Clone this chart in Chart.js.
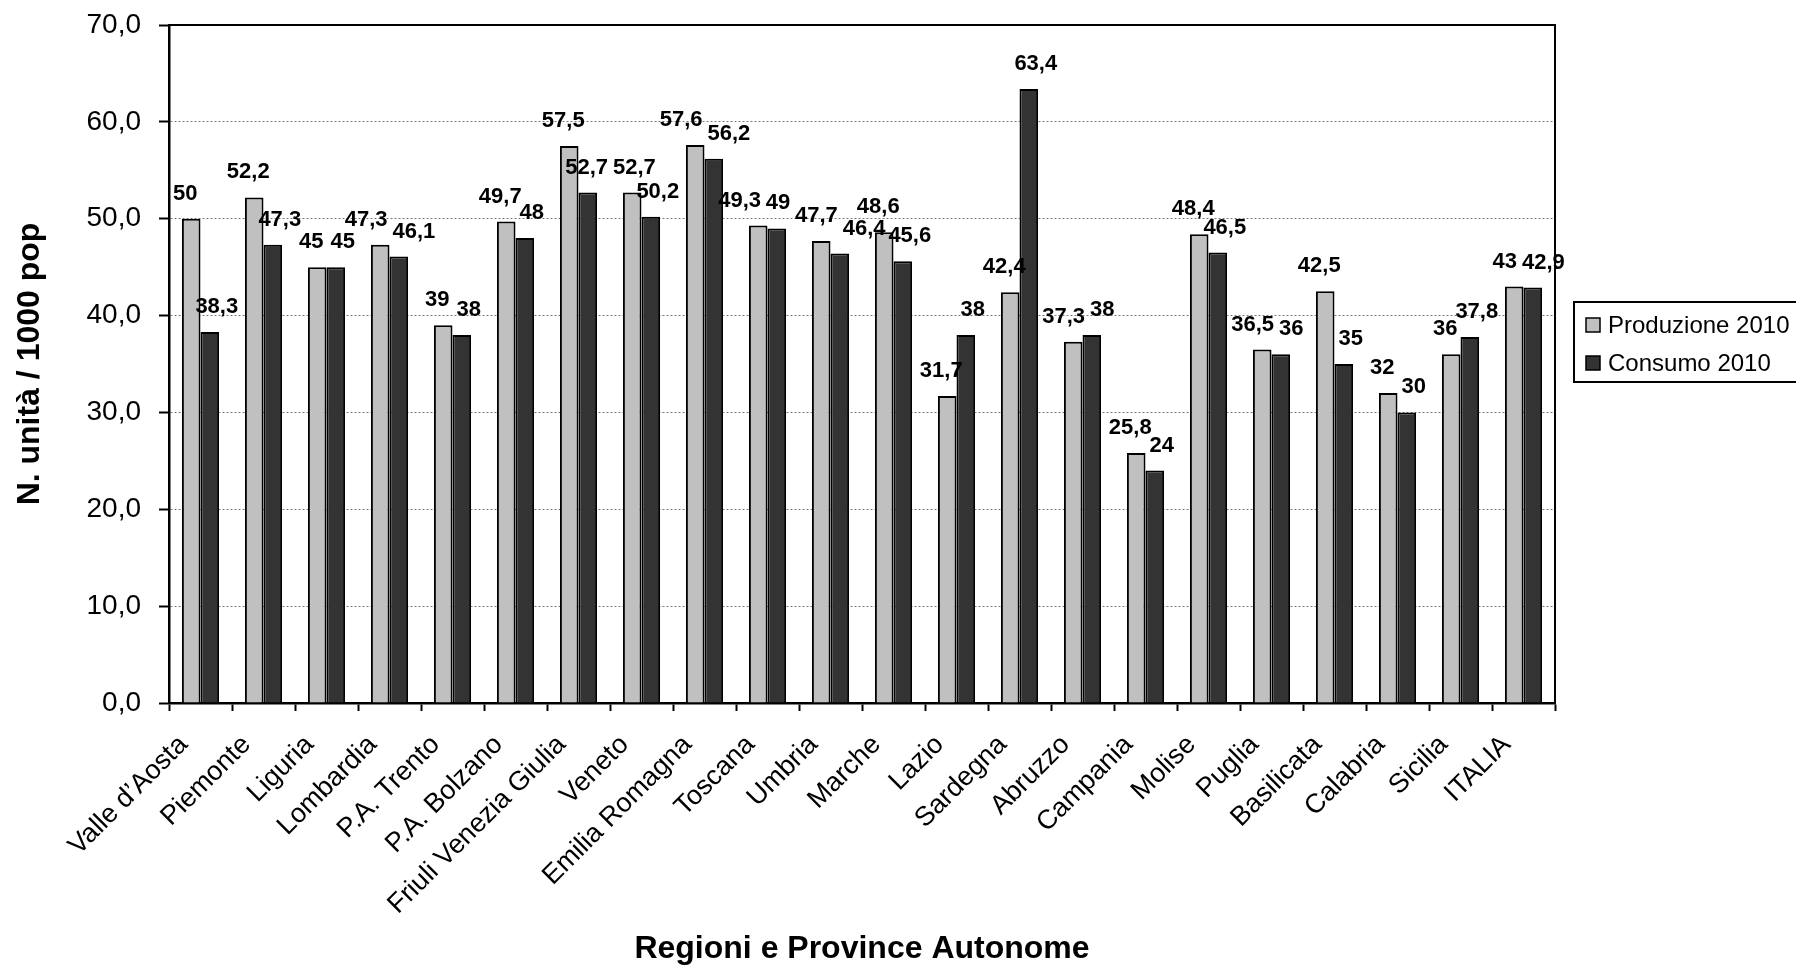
<!DOCTYPE html>
<html>
<head>
<meta charset="utf-8">
<script src="https://cdn.jsdelivr.net/npm/chart.js@4/dist/chart.umd.min.js"></script>
<style>
  html, body { margin: 0; padding: 0; background: #ffffff; }
  canvas { display: block; }
</style>
</head>
<body>
<canvas id="chart" width="1796" height="966"></canvas>
<script>
// Regions and autonomous provinces, plus the national total
const regioni = [
  'Valle d\u2019Aosta', 'Piemonte', 'Liguria', 'Lombardia', 'P.A. Trento', 'P.A. Bolzano',
  'Friuli Venezia Giulia', 'Veneto', 'Emilia Romagna', 'Toscana', 'Umbria', 'Marche',
  'Lazio', 'Sardegna', 'Abruzzo', 'Campania', 'Molise', 'Puglia', 'Basilicata',
  'Calabria', 'Sicilia', 'ITALIA'
];

// Units per 1000 population
const produzione2010 = [50, 52.2, 45, 47.3, 39, 49.7, 57.5, 52.7, 57.6, 49.3, 47.7, 48.6,
                        31.7, 42.4, 37.3, 25.8, 48.4, 36.5, 42.5, 32, 36, 43];
const consumo2010 = [38.3, 47.3, 45, 46.1, 38, 48, 52.7, 50.2, 56.2, 49, 46.4, 45.6,
                     38, 63.4, 38, 24, 46.5, 36, 35, 30, 37.8, 42.9];

const seriesNames = ['Produzione 2010', 'Consumo 2010'];
const axisTitles = { x: 'Regioni e Province Autonome', y: 'N. unit\u00e0 / 1000 pop' };
const yRange = { min: 0, max: 70, step: 10 };

const FONT = "'Liberation Sans', Arial, Helvetica, sans-serif";

// Italian decimal comma
function fmtValue(v) {
  return String(v).replace('.', ',');
}
function fmtTick(v) {
  return Number(v).toFixed(1).replace('.', ',');
}

// Value labels above each bar; labels sitting at nearly the same height
// are spread sideways so they do not collide.
const valueLabels = {
  id: 'valueLabels',
  afterDatasetsDraw(chart) {
    const ctx = chart.ctx;
    const shift = [-6, 7];
    const lift = 25;
    const rowTol = 14;
    const gap = 5;
    ctx.save();
    ctx.font = 'bold 22px ' + FONT;
    const items = [];
    chart.data.datasets.forEach((ds, di) => {
      const meta = chart.getDatasetMeta(di);
      meta.data.forEach((bar, i) => {
        const text = fmtValue(ds.data[i]);
        items.push({ text, x: bar.x + shift[di], y: bar.y - lift, w: ctx.measureText(text).width });
      });
    });
    items.sort((a, b) => a.x - b.x);
    for (let pass = 0; pass < 6; pass++) {
      for (let k = 0; k < items.length - 1; k++) {
        const a = items[k], b = items[k + 1];
        if (Math.abs(a.y - b.y) >= rowTol) continue;
        const need = (a.w + b.w) / 2 + gap - (b.x - a.x);
        if (need > 0) {
          a.x -= need / 2;
          b.x += need / 2;
        }
      }
    }
    ctx.fillStyle = '#000';
    ctx.textAlign = 'center';
    ctx.textBaseline = 'middle';
    items.forEach(it => ctx.fillText(it.text, it.x, it.y));
    ctx.restore();
  }
};

// Top and right edges of the plot frame
const plotFrame = {
  id: 'plotFrame',
  afterDraw(chart) {
    const { ctx, chartArea: a } = chart;
    ctx.save();
    ctx.strokeStyle = '#000';
    ctx.lineWidth = 2;
    ctx.beginPath();
    ctx.moveTo(a.left, a.top);
    ctx.lineTo(a.right, a.top);
    ctx.lineTo(a.right, a.bottom);
    ctx.stroke();
    ctx.restore();
  }
};

// Boxed legend to the right of the plot
const boxedLegend = {
  id: 'boxedLegend',
  afterDraw(chart) {
    const { ctx, chartArea: a } = chart;
    const x0 = a.right + 19;
    const y0 = a.top + 277;
    ctx.save();
    ctx.strokeStyle = '#000';
    ctx.lineWidth = 2;
    ctx.strokeRect(x0, y0, 260, 80);
    ctx.font = '24px ' + FONT;
    ctx.textBaseline = 'middle';
    ctx.textAlign = 'left';
    chart.data.datasets.forEach((ds, i) => {
      const cy = y0 + 23 + i * 38;
      ctx.fillStyle = ds.backgroundColor;
      ctx.fillRect(x0 + 12, cy - 7, 14, 14);
      ctx.lineWidth = 1.5;
      ctx.strokeRect(x0 + 12, cy - 7, 14, 14);
      ctx.fillStyle = '#000';
      ctx.fillText(ds.label, x0 + 34, cy + 1);
    });
    ctx.restore();
  }
};

new Chart(document.getElementById('chart'), {
  type: 'bar',
  data: {
    labels: regioni,
    datasets: [
      { label: seriesNames[0], data: produzione2010, backgroundColor: '#c0c0c0',
        borderColor: '#000', borderWidth: 2, borderSkipped: 'bottom' },
      { label: seriesNames[1], data: consumo2010, backgroundColor: '#333333',
        borderColor: '#000', borderWidth: 2, borderSkipped: 'bottom' }
    ]
  },
  options: {
    responsive: false,
    devicePixelRatio: 1,
    animation: false,
    layout: { padding: { left: 0, right: 241, top: 25, bottom: 0 } },
    datasets: { bar: { categoryPercentage: 0.59, barPercentage: 1.0 } },
    plugins: {
      legend: { display: false },
      tooltip: { enabled: false }
    },
    scales: {
      x: {
        afterFit(scale) { scale.height = 263; },
        grid: {
          display: true,
          drawOnChartArea: false,
          drawTicks: true,
          offset: true,
          tickLength: 8,
          tickColor: '#000',
          tickWidth: 2
        },
        border: { display: true, color: '#000', width: 2.5 },
        ticks: {
          autoSkip: false,
          maxRotation: 45,
          minRotation: 45,
          labelOffset: -17,
          padding: 18,
          color: '#000',
          font: { family: FONT, size: 27, lineHeight: 1.2 }
        },
        title: {
          display: true,
          text: axisTitles.x,
          color: '#000',
          font: { family: FONT, size: 32, weight: 'bold', lineHeight: 1.0 },
          padding: { top: 0, bottom: 1 }
        }
      },
      y: {
        min: yRange.min,
        max: yRange.max,
        afterFit(scale) {
          scale.width = 169;
          scale.paddingTop = 0;
          scale.paddingBottom = 0;
        },
        grid: {
          color: (c) => (c.tick && (c.tick.value === yRange.min || c.tick.value === yRange.max)) ? 'rgba(0,0,0,0)' : '#7a7a7a',
          lineWidth: 1,
          tickLength: 10,
          tickColor: '#000',
          tickWidth: 2
        },
        border: { display: true, color: '#000', width: 2.5, dash: [2, 2] },
        ticks: {
          stepSize: yRange.step,
          padding: 18,
          color: '#000',
          font: { family: FONT, size: 28 },
          callback: (v) => fmtTick(v)
        },
        title: {
          display: true,
          text: axisTitles.y,
          color: '#000',
          font: { family: FONT, size: 32, weight: 'bold', lineHeight: 1.2 },
          padding: { top: 11, bottom: 0 }
        }
      }
    }
  },
  plugins: [valueLabels, plotFrame, boxedLegend]
});
</script>
</body>
</html>
